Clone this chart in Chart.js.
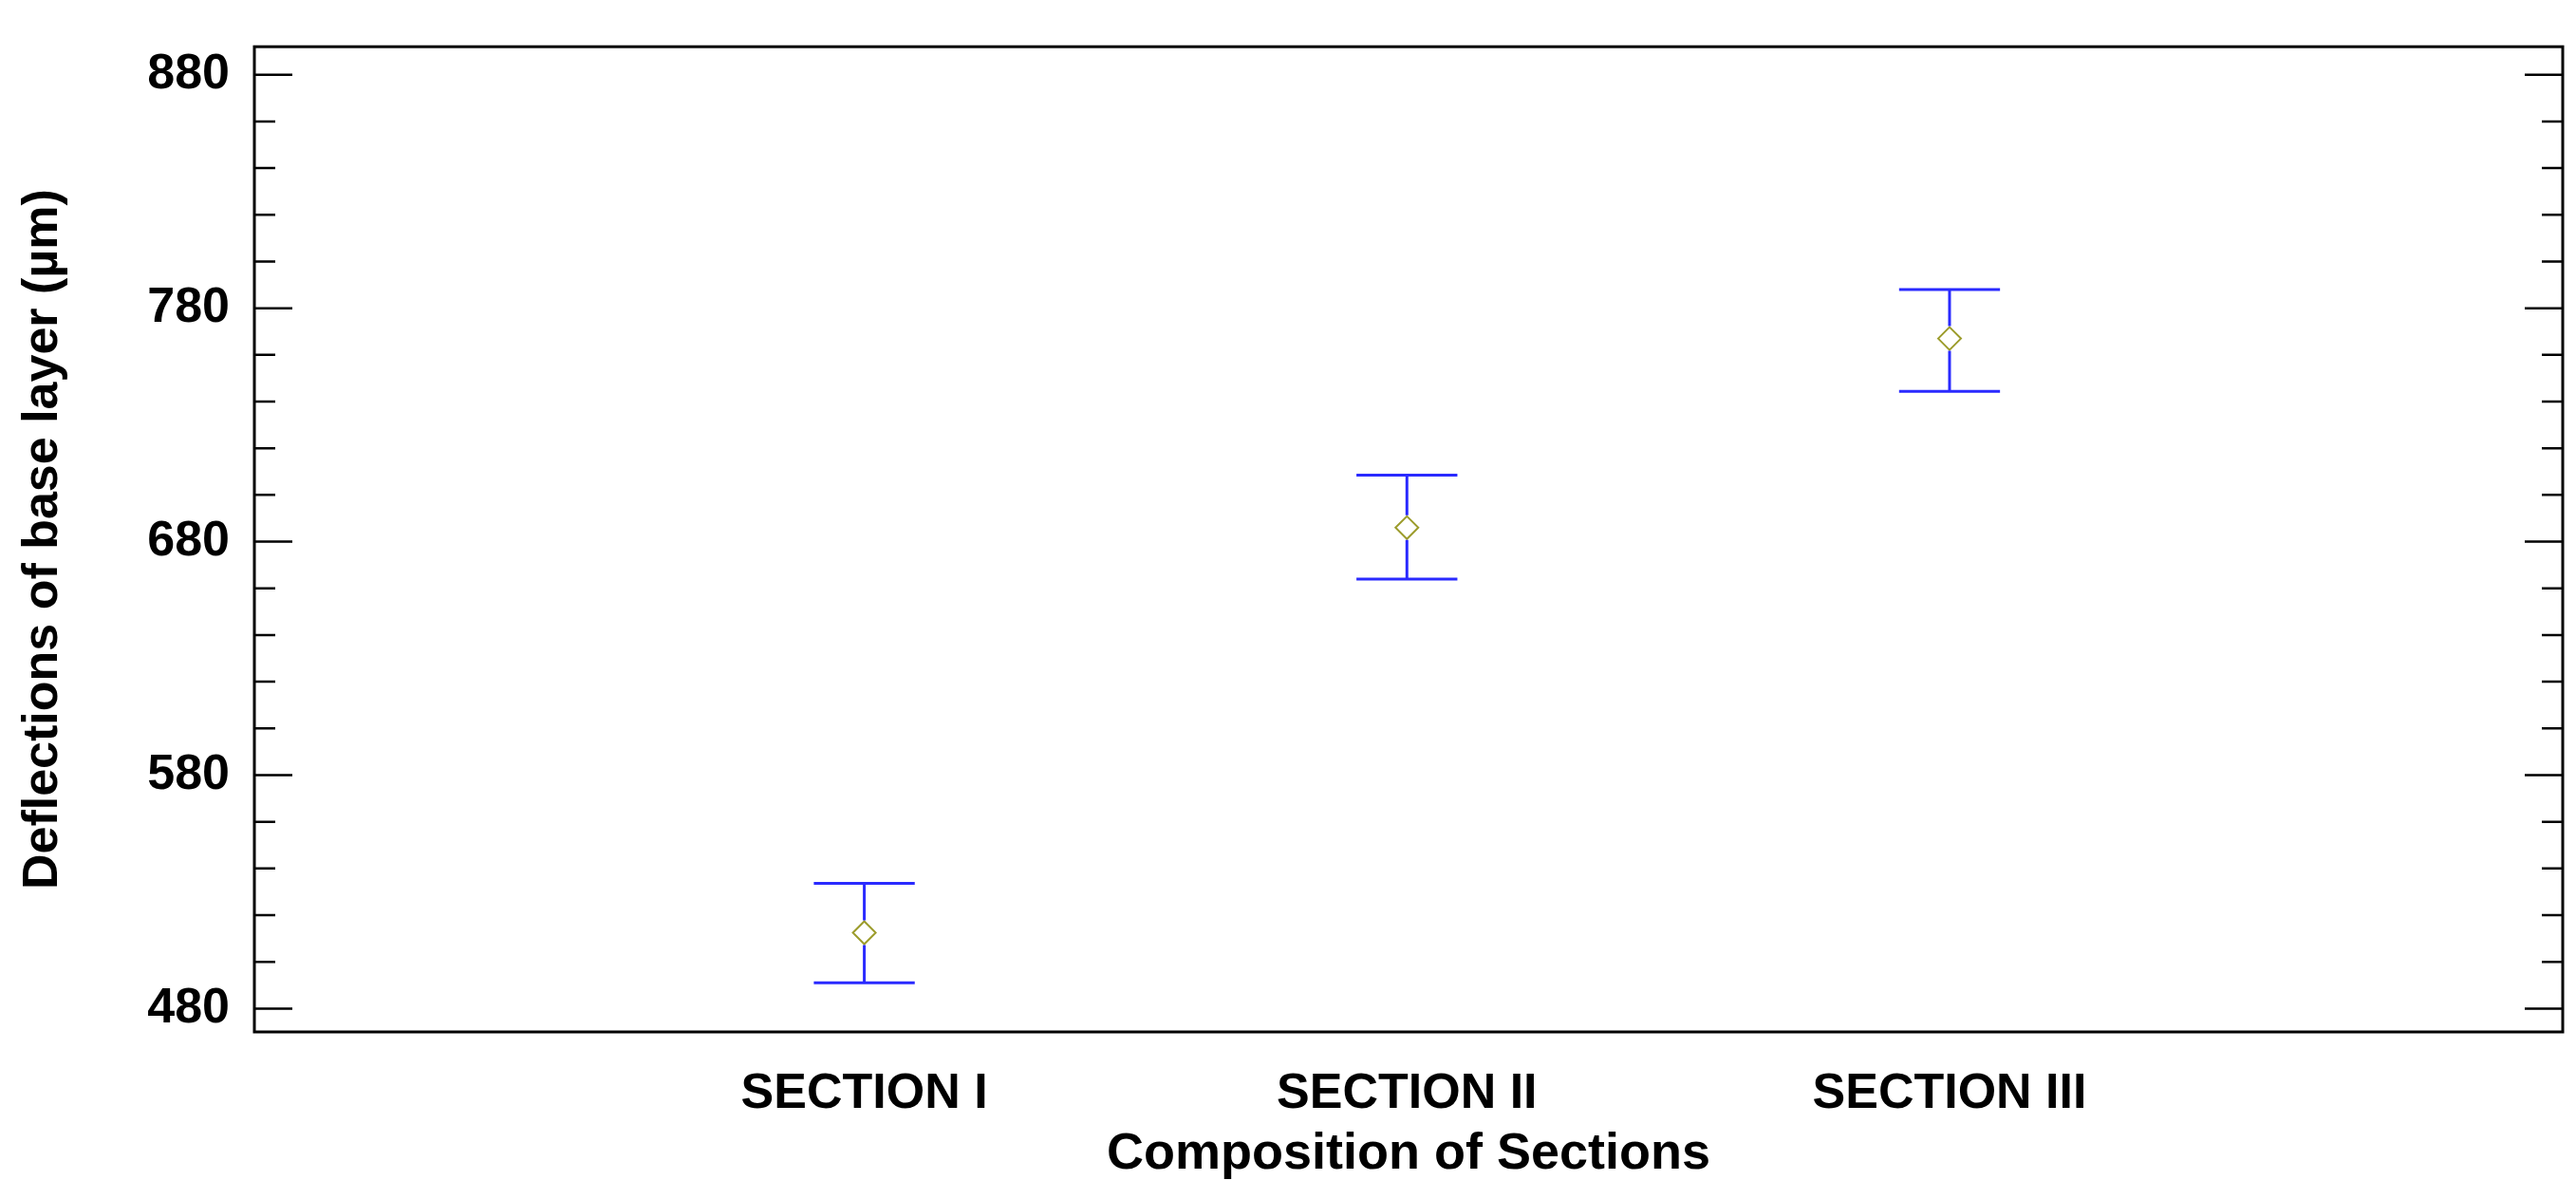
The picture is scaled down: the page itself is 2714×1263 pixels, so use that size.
<!DOCTYPE html>
<html>
<head>
<script src="https://cdn.jsdelivr.net/npm/chart.js@4"></script>
<style>
  body { margin: 0; background: #fff; }
  #wrap { width: 2714px; height: 1263px; }
</style>
</head>
<body>
<div id="wrap"><canvas id="c"></canvas></div>
<script>
const categories = ['SECTION I', 'SECTION II', 'SECTION III'];
const means = [512.5, 686, 767];
const upper = [533.6, 708.5, 788];
const lower = [491, 664, 744.4];
const yTicks = [480, 580, 680, 780, 880];

const font = 'Liberation Sans, Arial, sans-serif';

const errorBars = {
  id: 'errorBars',
  afterDatasetsDraw(chart) {
    const { ctx, scales: { x, y }, chartArea: a } = chart;
    ctx.save();
    ctx.strokeStyle = '#2a2aff';
    ctx.lineWidth = 3;
    categories.forEach((c, i) => {
      const px = x.getPixelForValue(i + 1);
      const cap = x.getPixelForValue(i + 1.093) - px;
      const yu = y.getPixelForValue(upper[i]);
      const yl = y.getPixelForValue(lower[i]);
      const ym = y.getPixelForValue(means[i]);
      ctx.beginPath();
      ctx.moveTo(px, yu); ctx.lineTo(px, ym - 13);
      ctx.moveTo(px, ym + 13); ctx.lineTo(px, yl);
      ctx.moveTo(px - cap, yu); ctx.lineTo(px + cap, yu);
      ctx.moveTo(px - cap, yl); ctx.lineTo(px + cap, yl);
      ctx.stroke();
    });
    // frame and inward ticks
    ctx.strokeStyle = '#000';
    ctx.lineWidth = 3;
    ctx.strokeRect(a.left, a.top, a.right - a.left, a.bottom - a.top);
    ctx.lineWidth = 2.5;
    for (let v = 480; v <= 880; v += 20) {
      const py = y.getPixelForValue(v);
      const len = (v - 480) % 100 === 0 ? 40 : 22;
      ctx.beginPath();
      ctx.moveTo(a.left, py); ctx.lineTo(a.left + len, py);
      ctx.moveTo(a.right, py); ctx.lineTo(a.right - len, py);
      ctx.stroke();
    }
    ctx.restore();
  }
};

new Chart(document.getElementById('c'), {
  type: 'scatter',
  data: {
    datasets: [{
      data: means.map((m, i) => ({ x: i + 1, y: m })),
      pointStyle: 'rectRot',
      pointRadius: 12,
      pointHoverRadius: 12,
      borderColor: '#9c9c2c',
      backgroundColor: 'rgba(0,0,0,0)',
      borderWidth: 2
    }]
  },
  options: {
    responsive: true,
    maintainAspectRatio: false,
    animation: false,
    layout: { padding: { left: 10, right: 8, top: -24, bottom: 10 } },
    plugins: { legend: { display: false }, tooltip: { enabled: false } },
    scales: {
      x: {
        type: 'linear',
        min: -0.124,
        max: 4.13,
        afterBuildTicks: s => { s.ticks = [1, 2, 3].map(v => ({ value: v })); },
        afterFit: s => { s.height = 1263 - 1087 - 10; },
        grid: { display: false },
        border: { display: false },
        ticks: {
          callback: v => categories[v - 1] || '',
          color: '#000',
          padding: 26,
          maxRotation: 0,
          font: { family: font, size: 52, weight: 'bold' }
        },
        title: {
          display: true,
          text: 'Composition of Sections',
          color: '#000',
          padding: { top: 4 },
          font: { family: font, size: 54, weight: 'bold' }
        }
      },
      y: {
        min: 470,
        max: 892,
        afterBuildTicks: s => { s.ticks = yTicks.map(v => ({ value: v })); },
        afterFit: s => { s.width = 268 - 10; },
        grid: { display: false },
        border: { display: false },
        ticks: {
          color: '#000',
          padding: 18,
          font: { family: font, size: 52, weight: 'bold' }
        },
        title: {
          display: true,
          text: 'Deflections of base layer (µm)',
          color: '#000',
          padding: { bottom: 10 },
          font: { family: font, size: 52, weight: 'bold' }
        }
      }
    }
  },
  plugins: [errorBars]
});
</script>
</body>
</html>
